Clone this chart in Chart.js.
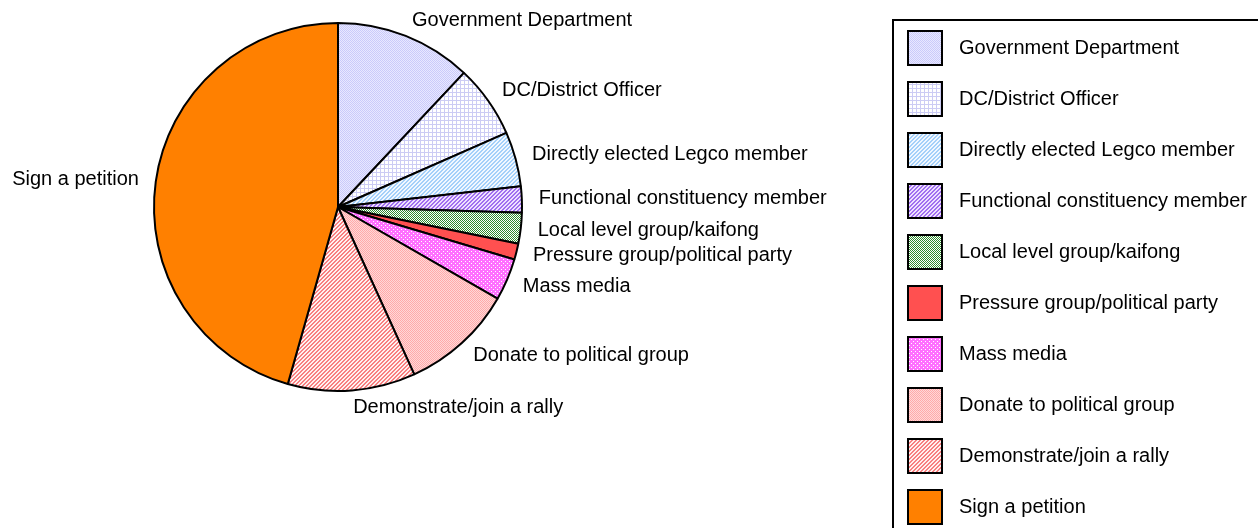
<!DOCTYPE html>
<html>
<head>
<meta charset="utf-8">
<script src="https://cdn.jsdelivr.net/npm/chart.js@4/dist/chart.umd.min.js"></script>
<style>
  html, body { margin: 0; padding: 0; background: #fff; }
  #pie { display: block; }
</style>
</head>
<body>
<canvas id="pie" width="1258" height="528"></canvas>
<script>
const categories = [
    'Government Department',
    'DC/District Officer',
    'Directly elected Legco member',
    'Functional constituency member',
    'Local level group/kaifong',
    'Pressure group/political party',
    'Mass media',
    'Donate to political group',
    'Demonstrate/join a rally',
    'Sign a petition'
]
// share of respondents, percent
const shares = [12.0, 6.4, 4.8, 2.3, 2.7, 1.4, 3.7, 9.9, 11.2, 45.6]

// small tiles: [background, foreground, kind]
const fills = [
    ['#e8e8ff', '#cacafa', 'check'],
    ['#ffffff', '#ccccf4', 'grid'],
    ['#f2f8ff', '#a4d0fa', 'diag'],
    ['#f0e0ff', '#a070f0', 'diag'],
    ['#ffffff', '#2e8b2e', 'check'],
    ['#ff5050', '#ff5050', 'solid'],
    ['#ffffff', '#ff70ff', 'dots'],
    ['#ffd8d8', '#ffaaaa', 'check'],
    ['#fff0f0', '#f88080', 'diag'],
    ['#ff8000', '#ff8000', 'solid']
]

function makePattern(bg, fg, kind) {
    let tile = document.createElement('canvas')
    tile.width = 4
    tile.height = 4
    let c = tile.getContext('2d')
    c.fillStyle = bg
    c.fillRect(0, 0, 4, 4)
    c.fillStyle = fg
    if (kind === 'check') {
        for (let y = 0; y < 4; y++)
            for (let x = 0; x < 4; x++)
                if ((x + y) % 2 === 0) c.fillRect(x, y, 1, 1)
    } else if (kind === 'grid') {
        c.fillRect(0, 0, 4, 1)
        c.fillRect(0, 0, 1, 4)
    } else if (kind === 'diag') {
        // two-pixel wide stripes running up to the right
        for (let i = 0; i < 4; i++) {
            c.fillRect(i, 3 - i, 1, 1)
            c.fillRect((i + 1) % 4, 3 - i, 1, 1)
        }
    } else if (kind === 'dots') {
        c.fillRect(0, 0, 4, 4)
        c.fillStyle = bg
        c.fillRect(1, 1, 1, 1)
        c.fillRect(3, 3, 1, 1)
    } else {
        c.fillRect(0, 0, 4, 4)
    }
    return c.createPattern(tile, 'repeat')
}

const ctx0 = document.querySelector('#pie').getContext('2d')
const patterns = fills.map(f => makePattern(f[0], f[1], f[2]))

const FONT = '20px "Liberation Sans", Arial, sans-serif'

// category names placed just outside each slice
const outerLabels = {
    id: 'outerLabels',
    afterDatasetsDraw(chart) {
        let ctx = chart.ctx
        let arcs = chart.getDatasetMeta(0).data
        ctx.save()
        ctx.font = FONT
        ctx.fillStyle = '#000'
        ctx.textBaseline = 'middle'
        arcs.forEach((arc, i) => {
            let mid = (arc.startAngle + arc.endAngle) / 2
            let r = arc.outerRadius + 17
            let x = arc.x + Math.cos(mid) * r
            let y = arc.y + Math.sin(mid) * r
            ctx.textAlign = Math.cos(mid) >= 0 ? 'left' : 'right'
            ctx.fillText(chart.data.labels[i], x, y)
        })
        ctx.restore()
    }
}

// boxed legend on the right
const boxLegend = {
    id: 'boxLegend',
    afterDraw(chart) {
        let ctx = chart.ctx
        let ds = chart.data.datasets[0]
        ctx.save()
        ctx.strokeStyle = '#000'
        ctx.lineWidth = 2
        ctx.strokeRect(893, 20, 400, 540)
        ctx.font = FONT
        ctx.textBaseline = 'middle'
        ctx.textAlign = 'left'
        chart.data.labels.forEach((label, i) => {
            let cy = 48 + i * 51
            ctx.fillStyle = ds.backgroundColor[i]
            ctx.fillRect(908, cy - 17, 34, 34)
            ctx.lineWidth = 2
            ctx.strokeRect(908, cy - 17, 34, 34)
            ctx.fillStyle = '#000'
            ctx.fillText(label, 959, cy)
        })
        ctx.restore()
    }
}

new Chart(ctx0, {
    type: 'pie',
    data: {
        labels: categories,
        datasets: [{
            data: shares,
            backgroundColor: patterns,
            borderColor: '#000',
            borderWidth: 2,
            borderAlign: 'center'
        }]
    },
    options: {
        responsive: false,
        animation: false,
        layout: {
            padding: { left: 153, right: 735, top: 22, bottom: 136 }
        },
        plugins: {
            legend: { display: false },
            tooltip: { enabled: false }
        }
    },
    plugins: [outerLabels, boxLegend]
})
</script>
</body>
</html>
